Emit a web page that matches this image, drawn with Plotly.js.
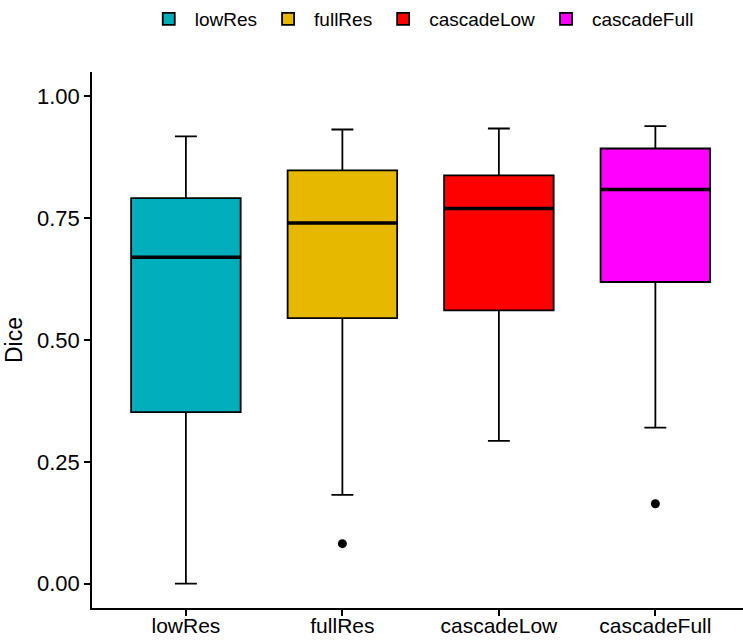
<!DOCTYPE html>
<html>
<head>
<meta charset="utf-8">
<script src="https://cdn.plot.ly/plotly-3.0.1.min.js"></script>
<style>html,body{margin:0;padding:0;background:#fff;}</style>
</head>
<body>
<div id="chart" style="width:743px;height:640px;"></div>
<script>
const categories = ["lowRes", "fullRes", "cascadeLow", "cascadeFull"];
const colors = ["#00AFBB", "#E7B800", "#FF0000", "#FF00FF"];
const lowerWhisker = [0.000, 0.182, 0.293, 0.320];
const q1 = [0.352, 0.545, 0.561, 0.619];
const medians = [0.670, 0.740, 0.770, 0.809];
const q3 = [0.791, 0.848, 0.838, 0.893];
const upperWhisker = [0.918, 0.932, 0.934, 0.939];
const outlierGroups = ["fullRes", "cascadeFull"];
const outlierValues = [0.082, 0.164];
const yTicks = [0, 0.25, 0.5, 0.75, 1.0];
const yTickLabels = ["0.00", "0.25", "0.50", "0.75", "1.00"];

const boxWidth = 0.7;
const traces = categories.map((c, i) => ({
  type: "box",
  name: c,
  x: [c],
  q1: [q1[i]],
  median: [medians[i]],
  q3: [q3[i]],
  lowerfence: [lowerWhisker[i]],
  upperfence: [upperWhisker[i]],
  fillcolor: colors[i],
  line: {color: "#000000", width: 1.8},
  width: boxWidth,
  whiskerwidth: 0.2,
  boxpoints: false,
  hoverinfo: "skip"
}));
traces.push({
  type: "scatter",
  mode: "markers",
  x: outlierGroups,
  y: outlierValues,
  marker: {color: "#000000", size: 9},
  showlegend: false,
  hoverinfo: "skip"
});

const shapes = categories.map((c, i) => ({
  type: "line",
  xref: "x", yref: "y",
  x0: i - boxWidth / 2, x1: i + boxWidth / 2,
  y0: medians[i], y1: medians[i],
  line: {color: "#000000", width: 3.5}
}));

const layout = {
  width: 743, height: 640,
  margin: {l: 92, r: 0, t: 71, b: 32},
  paper_bgcolor: "#ffffff",
  plot_bgcolor: "#ffffff",
  font: {family: "Liberation Sans, Arial, sans-serif", color: "#000000"},
  boxmode: "overlay",
  showlegend: true,
  legend: {
    orientation: "h",
    x: 0.505, xanchor: "center",
    y: 1.135, yanchor: "top",
    font: {size: 19, color: "#000000"},
    itemwidth: 42,
    traceorder: "normal"
  },
  xaxis: {
    type: "category",
    categoryorder: "array",
    categoryarray: categories,
    range: [-0.6, 3.56],
    showline: true, linecolor: "#000000", linewidth: 1.8,
    ticks: "outside", ticklen: 6, tickwidth: 1.8, tickcolor: "#000000",
    showgrid: false, zeroline: false,
    ticklabelstandoff: -8,
    tickfont: {size: 21, color: "#000000"}
  },
  yaxis: {
    range: [-0.05, 1.05],
    tickvals: yTicks,
    ticktext: yTickLabels,
    showline: true, linecolor: "#000000", linewidth: 1.8,
    ticks: "outside", ticklen: 6, tickwidth: 1.8, tickcolor: "#000000",
    showgrid: false, zeroline: false,
    tickfont: {size: 22, color: "#000000"},
    title: {text: "Dice", font: {size: 23, color: "#000000"}, standoff: 8}
  },
  shapes: shapes
};

Plotly.newPlot("chart", traces, layout, {displayModeBar: false, staticPlot: true});
</script>
</body>
</html>
